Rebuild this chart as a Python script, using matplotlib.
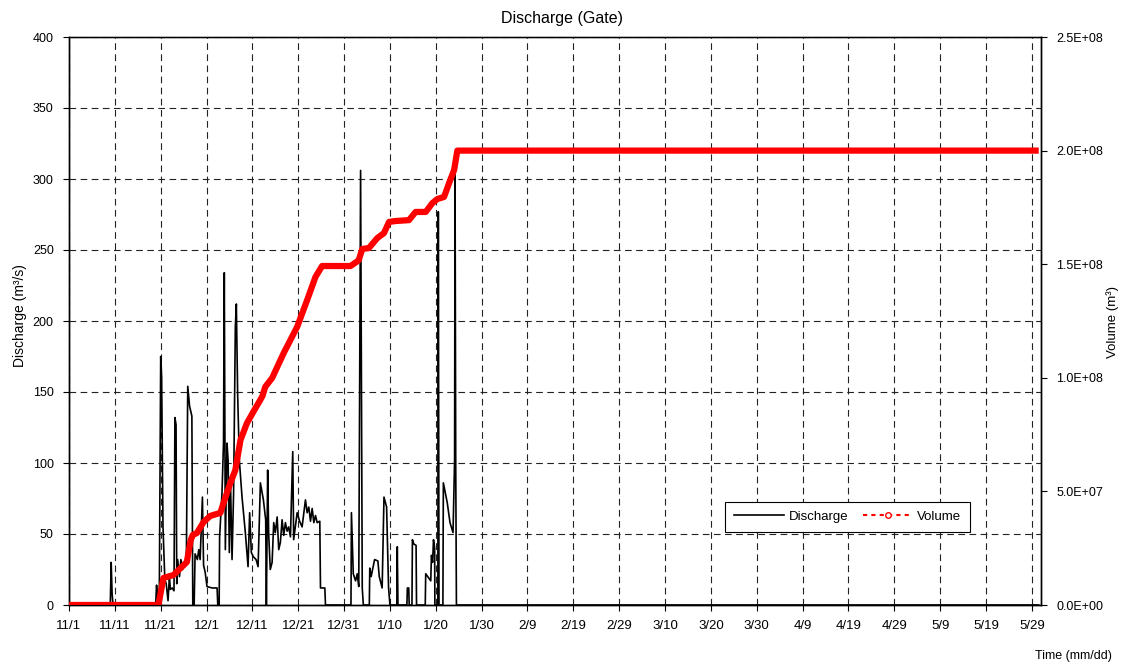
import matplotlib.pyplot as plt
from matplotlib.lines import Line2D
from datetime import datetime, timedelta

plt.rcParams['font.family'] = ['Liberation Sans', 'DejaVu Sans']

start = datetime(2019, 11, 1)
end = datetime(2020, 5, 31)

# gate discharge: (days since 11/1, m3/s)
discharge_pts = [
    (0, 0), (9.0, 0), (9.2, 30), (9.4, 8), (9.6, 0),
    (18.9, 0), (19.1, 14), (19.3, 5), (19.7, 8), (20.0, 175), (20.2, 161),
    (20.5, 55), (20.9, 18), (21.2, 15), (21.6, 3), (21.9, 20), (22.1, 11),
    (22.5, 12), (22.9, 10), (23.1, 132), (23.35, 127), (23.5, 15), (23.7, 32),
    (24.1, 20), (24.4, 32), (24.8, 25), (25.1, 30), (25.6, 33), (25.9, 154),
    (26.3, 140), (26.8, 133), (27.0, 0), (27.3, 0), (27.5, 36), (28.0, 32),
    (28.3, 39), (28.6, 32), (29.1, 76), (29.35, 28), (29.7, 23), (30.1, 13),
    (31.2, 12), (32.3, 12), (32.45, 0), (32.75, 0), (32.85, 48), (33.37, 79),
    (33.7, 114), (33.87, 234), (34.1, 39), (34.46, 114), (34.7, 102),
    (34.97, 37), (35.2, 90), (35.56, 32), (35.9, 79), (36.28, 196),
    (36.5, 212), (36.78, 149), (37.15, 102), (37.74, 76), (38.46, 51),
    (39.05, 27), (39.4, 65), (39.77, 37), (40.2, 34), (40.8, 32), (41.24, 27),
    (41.74, 86), (42.4, 74), (42.9, 60), (43.05, 0), (43.33, 95), (43.55, 50),
    (43.9, 25), (44.3, 30), (44.65, 58), (45.0, 51), (45.4, 62), (45.74, 39),
    (46.1, 44), (46.48, 60), (46.83, 49), (47.2, 58), (47.57, 52), (47.9, 55),
    (48.3, 48), (48.8, 108), (49.0, 46), (49.76, 65), (50.3, 59), (50.84, 55),
    (51.57, 74), (51.94, 65), (52.3, 69), (52.67, 59), (53.04, 68), (53.4, 58),
    (53.76, 63), (54.13, 58), (54.7, 59), (54.85, 12), (55.8, 12), (55.94, 0),
    (61.5, 0), (61.6, 65), (62.0, 22), (62.5, 17), (62.87, 22), (63.2, 13),
    (63.6, 306), (63.96, 12), (64.2, 0), (65.5, 0), (65.6, 26), (65.9, 20),
    (66.65, 32), (67.37, 31), (67.67, 20), (68.3, 12), (68.7, 76), (69.27, 69),
    (69.7, 12), (70.0, 0), (71.5, 0), (71.6, 41), (71.75, 0), (73.7, 0),
    (73.8, 12), (74.1, 12), (74.2, 0), (74.8, 0), (74.9, 46), (75.2, 43),
    (75.7, 42), (75.8, 0), (77.7, 0), (77.8, 22), (78.9, 17), (79.05, 35),
    (79.3, 30), (79.5, 46), (79.75, 40), (79.8, 0), (80.45, 0), (80.55, 277),
    (80.7, 0), (81.55, 0), (81.65, 86), (82.5, 72), (83.1, 58), (83.76, 51),
    (84.1, 102), (84.2, 305), (84.35, 98), (84.5, 0), (211.5, 0),
]

# cumulative released volume: (days since 11/1, m3)
volume_pts = [
    (0, 0), (19.5, 0), (20.6, 0.119e8), (22.8, 0.132e8), (23.9, 0.154e8),
    (25.7, 0.189e8), (26.55, 0.286e8), (27.0, 0.308e8), (27.9, 0.317e8),
    (29.35, 0.365e8), (30.8, 0.392e8), (32.1, 0.400e8), (33.0, 0.405e8),
    (33.7, 0.449e8), (35.2, 0.537e8), (36.28, 0.594e8), (37.4, 0.726e8),
    (38.8, 0.800e8), (40.2, 0.850e8), (41.7, 0.902e8), (42.2, 0.920e8),
    (42.8, 0.960e8), (44.3, 0.999e8), (46.83, 1.109e8), (49.76, 1.224e8),
    (51.94, 1.342e8), (53.76, 1.444e8), (55.2, 1.492e8), (61.4, 1.492e8),
    (62.7, 1.510e8), (63.2, 1.518e8), (63.96, 1.567e8), (65.4, 1.571e8),
    (67.24, 1.615e8), (68.7, 1.637e8), (69.8, 1.686e8), (71.2, 1.690e8),
    (74.15, 1.694e8), (75.6, 1.730e8), (77.8, 1.730e8), (79.26, 1.769e8),
    (80.35, 1.787e8), (81.8, 1.796e8), (82.9, 1.857e8), (84.0, 1.915e8),
    (84.7, 2.0e8), (211.5, 2.0e8),
]

q_ticks = [0, 50, 100, 150, 200, 250, 300, 350, 400]
v_ticks = [0, 0.5e8, 1.0e8, 1.5e8, 2.0e8, 2.5e8]
date_ticks = [start + timedelta(days=10 * k) for k in range(22)]


def to_dates(pts):
    return [start + timedelta(days=d) for d, _ in pts], [v for _, v in pts]


q_t, q_v = to_dates(discharge_pts)
v_t, v_v = to_dates(volume_pts)

fig = plt.figure(figsize=(11.25, 6.66), dpi=100)
ax = fig.add_axes([69 / 1125, 1 - 605 / 666, 972 / 1125, 568 / 666])
ax2 = ax.twinx()

grid_kw = dict(color='#222222', linewidth=0.8, linestyle=(0, (6, 4)))
ax.grid(True, **grid_kw)
ax.set_axisbelow(True)

ax.plot(q_t, q_v, color='black', linewidth=1.2, zorder=3)
ax2.plot(v_t, v_v, color='#ff0000', linewidth=4.5, solid_capstyle='butt', zorder=3)

ax.set_xlim(start, end)
ax.set_ylim(0, 400)
ax2.set_ylim(0, 2.5e8)

ax.set_xticks(date_ticks)
ax.set_xticklabels([f"{d.month}/{d.day}" for d in date_ticks])
ax.set_yticks(q_ticks)
ax.set_yticklabels([str(v) for v in q_ticks])
ax2.set_yticks(v_ticks)
ax2.set_yticklabels([f"{v:.1E}" for v in v_ticks])

ax.tick_params(axis='both', direction='out', length=4, width=0.8, labelsize=9, pad=7)
ax.tick_params(axis='x', labelsize=9.5)
ax2.tick_params(axis='y', direction='out', length=4, width=0.8, labelsize=9, pad=7)
for a in (ax, ax2):
    for s in a.spines.values():
        s.set_color('black')
        s.set_linewidth(1.0)
ax.spines['top'].set_color('#777777')

fig.text(562 / 1125, 1 - 18 / 666, 'Discharge (Gate)', ha='center', va='center', fontsize=11.5)
fig.text(20 / 1125, 1 - 316 / 666, 'Discharge (m³/s)', rotation=90, ha='center', va='center', fontsize=10)
fig.text(1113 / 1125, 1 - 322 / 666, 'Volume (m³)', rotation=90, ha='center', va='center', fontsize=9.5)
fig.text(1112 / 1125, 1 - 656 / 666, 'Time (mm/dd)', ha='right', va='center', fontsize=9)

handles = [
    Line2D([], [], color='black', linewidth=1.2),
    Line2D([], [], color='#ff0000', linewidth=1.5, linestyle=(0, (2, 2)),
           marker='o', markersize=4, markerfacecolor='white', markeredgecolor='#ff0000'),
]
leg = ax2.legend(handles, ['Discharge', 'Volume'], loc='center', bbox_to_anchor=(0.801, 0.155),
                 ncol=2, fontsize=9.5, frameon=True, fancybox=False, framealpha=1,
                 edgecolor='black', handlelength=3.8, columnspacing=1.1, handletextpad=0.3,
                 borderpad=0.7, numpoints=1)
leg.get_frame().set_linewidth(0.8)

fig.savefig('out.png', dpi=100)
